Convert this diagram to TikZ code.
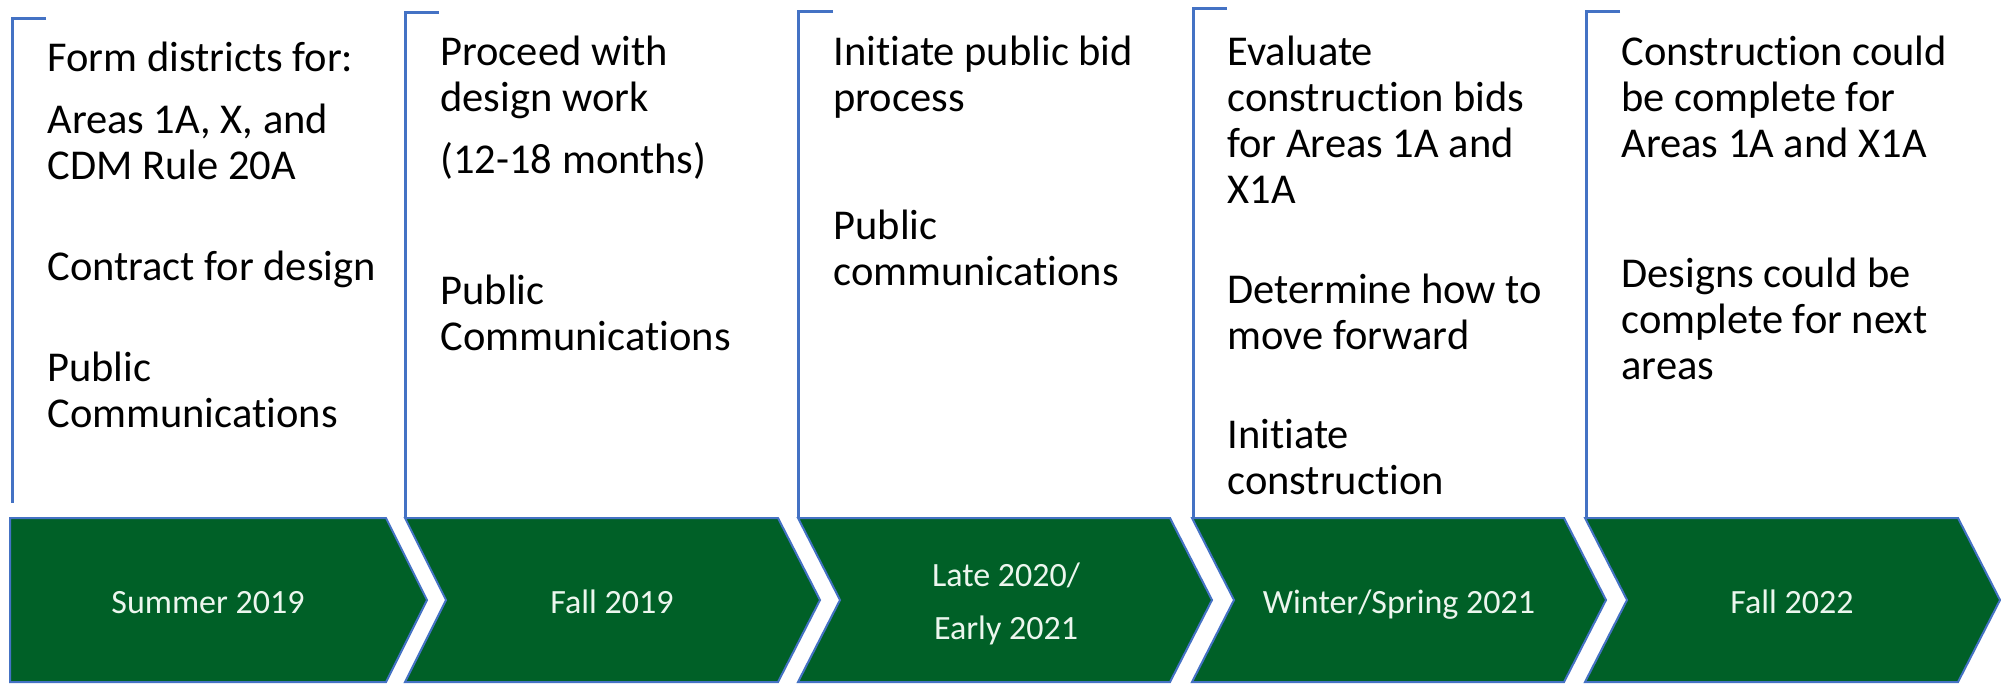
\documentclass[tikz,border=0pt]{standalone}
\usepackage{fontspec}
\setmainfont{Carlito}[Ligatures={NoCommon}]
\definecolor{dgreen}{RGB}{0,96,39}
\definecolor{lblue}{RGB}{68,114,196}
\definecolor{ltext}{RGB}{236,246,238}
\newcommand{\ml}[1]{\vtop{\baselineskip=23pt\lineskiplimit=-100pt\halign{##\hfil\cr#1\crcr}}}
\newcommand{\mc}[1]{\vtop{\baselineskip=26.5pt\lineskiplimit=-100pt\halign{\hfil##\hfil\cr#1\crcr}}}
\begin{document}
\begin{tikzpicture}[x=0.5pt,y=-0.5pt,
  chev/.style={fill=dgreen, draw=lblue, line width=1pt, line join=miter},
  brk/.style={draw=lblue, line width=1.5pt},
  body/.style={anchor=base west, inner sep=0pt, font=\fontsize{21.25pt}{23pt}\selectfont, text=black},
  dlabel/.style={anchor=base, inner sep=0pt, font=\fontsize{17pt}{20pt}\selectfont, text=ltext}]
\useasboundingbox (0,0) rectangle (2001,686);
% chevrons
\path[chev] (10,518) -- (386,518) -- (427,600) -- (386,682) -- (10,682) -- cycle;
\path[chev] (405,518) -- (778,518) -- (820,600) -- (778,682) -- (405,682) -- (446,600) -- cycle;
\path[chev] (798,518) -- (1170,518) -- (1212,600) -- (1170,682) -- (798,682) -- (840,600) -- cycle;
\path[chev] (1192,518) -- (1564,518) -- (1606,600) -- (1564,682) -- (1192,682) -- (1234,600) -- cycle;
\path[chev] (1585,518) -- (1958,518) -- (2000,600) -- (1958,682) -- (1585,682) -- (1627,600) -- cycle;
% chevron labels
\node[dlabel] (t1) at (208,613) {Summer 2019};
\node[dlabel] (t2) at (612,613) {Fall 2019};
\node[dlabel] (t3) at (1006,586) {\mc{Late 2020/\cr Early 2021}};
\node[dlabel] (t4) at (1399,613) {Winter/Spring 2021};
\node[dlabel] (t5) at (1792,613) {Fall 2022};
% brackets
\draw[brk] (46,18) -- (12,18) -- (12,503);
\draw[brk] (439,12) -- (405,12) -- (405,518);
\draw[brk] (833,11) -- (798,11) -- (798,518);
\draw[brk] (1227,8) -- (1193,8) -- (1193,518);
\draw[brk] (1620,11) -- (1586,11) -- (1586,518);
% column 1
\node[body] (a1) at (47,71) {\ml{Form districts for:}};
\node[body] (a2) at (47,133) {\ml{Areas 1A, X, and\cr CDM Rule 20A}};
\node[body] (a3) at (47,280) {\ml{Contract for design}};
\node[body] (a4) at (47,381) {\ml{Public\cr Communications}};
% column 2
\node[body] (b1) at (440,65) {\ml{Proceed with\cr design work}};
\node[body] (b2) at (440,173) {\ml{(12-18 months)}};
\node[body] (b3) at (440,304) {\ml{Public\cr Communications}};
% column 3
\node[body] (c1) at (833,65) {\ml{Initiate public bid\cr process}};
\node[body] (c2) at (833,239) {\ml{Public\cr communications}};
% column 4
\node[body] (d1) at (1227,65) {\ml{Evaluate\cr construction bids\cr for Areas 1A and\cr X1A}};
\node[body] (d2) at (1227,303) {\ml{Determine how to\cr move forward}};
\node[body] (d3) at (1227,448) {\ml{Initiate\cr construction}};
% column 5
\node[body] (e1) at (1621,65) {\ml{Construction could\cr be complete for\cr Areas 1A and X1A}};
\node[body] (e2) at (1621,287) {\ml{Designs could be\cr complete for next\cr areas}};
\end{tikzpicture}
\end{document}
